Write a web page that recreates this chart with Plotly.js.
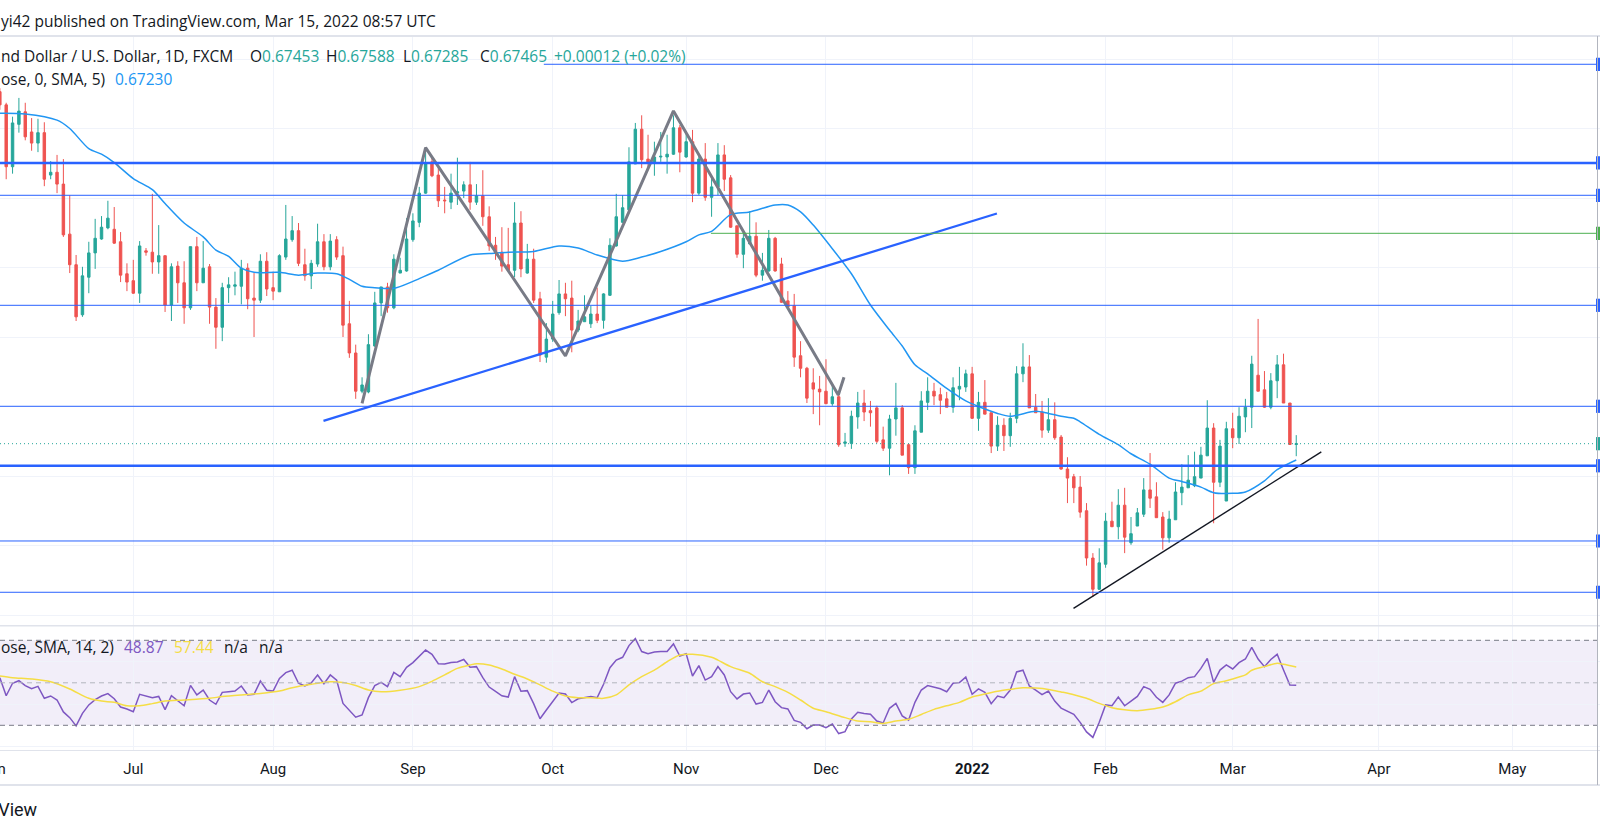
<!DOCTYPE html>
<html><head><meta charset="utf-8">
<script src="https://cdn.plot.ly/plotly-3.0.1.min.js"></script>
<style>html,body{margin:0;padding:0;background:#fff;overflow:hidden}#chart{width:1600px;height:833px}</style>
</head><body><div id="chart"></div>
<script>
// ---------- DATA ----------
const dates = [
'2021-06-02','2021-06-03','2021-06-04','2021-06-07','2021-06-08','2021-06-09','2021-06-10','2021-06-11','2021-06-14','2021-06-15','2021-06-16','2021-06-17','2021-06-18','2021-06-21','2021-06-22','2021-06-23','2021-06-24','2021-06-25','2021-06-28','2021-06-29','2021-06-30',
'2021-07-01','2021-07-02','2021-07-05','2021-07-06','2021-07-07','2021-07-08','2021-07-09','2021-07-12','2021-07-13','2021-07-14','2021-07-15','2021-07-16','2021-07-19','2021-07-20','2021-07-21','2021-07-22','2021-07-23','2021-07-26','2021-07-27','2021-07-28','2021-07-29','2021-07-30',
'2021-08-02','2021-08-03','2021-08-04','2021-08-05','2021-08-06','2021-08-09','2021-08-10','2021-08-11','2021-08-12','2021-08-13','2021-08-16','2021-08-17','2021-08-18','2021-08-19','2021-08-20','2021-08-23','2021-08-24','2021-08-25','2021-08-26','2021-08-27','2021-08-30','2021-08-31',
'2021-09-01','2021-09-02','2021-09-03','2021-09-06','2021-09-07','2021-09-08','2021-09-09','2021-09-10','2021-09-13','2021-09-14','2021-09-15','2021-09-16','2021-09-17','2021-09-20','2021-09-21','2021-09-22','2021-09-23','2021-09-24','2021-09-27','2021-09-28','2021-09-29','2021-09-30',
'2021-10-01','2021-10-04','2021-10-05','2021-10-06','2021-10-07','2021-10-08','2021-10-11','2021-10-12','2021-10-13','2021-10-14','2021-10-15','2021-10-18','2021-10-19','2021-10-20','2021-10-21','2021-10-22','2021-10-25','2021-10-26','2021-10-27','2021-10-28','2021-10-29',
'2021-11-01','2021-11-02','2021-11-03','2021-11-04','2021-11-05','2021-11-08','2021-11-09','2021-11-10','2021-11-11','2021-11-12','2021-11-15','2021-11-16','2021-11-17','2021-11-18','2021-11-19','2021-11-22','2021-11-23','2021-11-24','2021-11-25','2021-11-26','2021-11-29','2021-11-30',
'2021-12-01','2021-12-02','2021-12-03','2021-12-06','2021-12-07','2021-12-08','2021-12-09','2021-12-10','2021-12-13','2021-12-14','2021-12-15','2021-12-16','2021-12-17','2021-12-20','2021-12-21','2021-12-22','2021-12-23','2021-12-24','2021-12-27','2021-12-28','2021-12-29','2021-12-30','2021-12-31',
'2022-01-03','2022-01-04','2022-01-05','2022-01-06','2022-01-07','2022-01-10','2022-01-11','2022-01-12','2022-01-13','2022-01-14','2022-01-17','2022-01-18','2022-01-19','2022-01-20','2022-01-21','2022-01-24','2022-01-25','2022-01-26','2022-01-27','2022-01-28','2022-01-31',
'2022-02-01','2022-02-02','2022-02-03','2022-02-04','2022-02-07','2022-02-08','2022-02-09','2022-02-10','2022-02-11','2022-02-14','2022-02-15','2022-02-16','2022-02-17','2022-02-18','2022-02-21','2022-02-22','2022-02-23','2022-02-24','2022-02-25','2022-02-28',
'2022-03-01','2022-03-02','2022-03-03','2022-03-04','2022-03-07','2022-03-08','2022-03-09','2022-03-10','2022-03-11','2022-03-14','2022-03-15'];

const opens = [
.7253,.7234,.7145,.7206,.7224,.7195,.7179,.7194,.7133,.7137,.7120,.7048,.7004,.6932,.6986,.7021,.7041,.7057,.7055,.7037,.6991,
.6981,.6963,.7024,.7022,.7008,.7017,.6946,.7002,.6978,.6942,.7030,.6978,.7001,.6943,.6914,.6971,.6973,.6973,.6999,.6956,.6953,.7009,
.6971,.6965,.7015,.7040,.7053,.7004,.6988,.7005,.7037,.7001,.7040,.7017,.6919,.6877,.6822,.6821,.6887,.6949,.6972,.6942,.6992,.6995,
.7040,.7065,.7107,.7152,.7133,.7097,.7094,.7107,.7110,.7119,.7094,.7103,.7073,.7032,.7022,.7004,.6996,.7064,.6992,.7012,.6955,.6871,
.6897,.6935,.6962,.6956,.6910,.6922,.6919,.6933,.6924,.6960,.7031,.7065,.7083,.7149,.7199,.7156,.7150,.7159,.7159,.7163,.7201,
.7159,.7181,.7107,.7156,.7101,.7116,.7162,.7129,.7060,.7019,.7034,.7045,.6989,.6995,.7042,.7005,.6952,.6945,.6873,.6855,.6834,.6825,
.6822,.6804,.6814,.6747,.6747,.6785,.6805,.6794,.6798,.6752,.6740,.6782,.6798,.6745,.6712,.6763,.6806,.6822,.6817,.6811,.6799,.6825,.6828,
.6847,.6783,.6806,.6791,.6743,.6773,.6758,.6783,.6847,.6857,.6799,.6792,.6766,.6781,.6756,.6710,.6699,.6684,.6650,.6582,.6537,
.6573,.6635,.6627,.6658,.6604,.6628,.6645,.6680,.6670,.6641,.6611,.6637,.6676,.6683,.6686,.6697,.6729,.6769,.6691,.6664,
.6768,.6755,.6785,.6799,.6845,.6824,.6799,.6837,.6860,.6805,.67453];

const highs = [
.7258,.7237,.7217,.7244,.7237,.7215,.7214,.7209,.7153,.7162,.7156,.7104,.7018,.7001,.7037,.7070,.7074,.7096,.7087,.7051,.7006,
.7011,.7038,.7028,.7106,.7061,.7017,.7006,.7009,.7009,.7030,.7044,.7038,.7005,.6956,.6978,.6986,.6994,.7011,.7006,.6992,.7019,.7022,
.6994,.7019,.7090,.7074,.7064,.7027,.7011,.7063,.7048,.7048,.7045,.7030,.6952,.6889,.6842,.6904,.6965,.6972,.6978,.7019,.7014,.7071,
.7078,.7116,.7173,.7159,.7143,.7116,.7135,.7158,.7124,.7152,.7120,.7140,.7088,.7044,.7058,.7057,.7094,.7081,.7034,.7027,.6965,.6920,
.6952,.6982,.6978,.6981,.6939,.6960,.6945,.6971,.6963,.7042,.7106,.7104,.7173,.7208,.7219,.7191,.7181,.7195,.7191,.7219,.7205,
.7194,.7198,.7162,.7179,.7129,.7179,.7176,.7133,.7060,.7051,.7081,.7065,.7021,.7054,.7044,.7014,.6966,.6962,.6894,.6857,.6855,.6844,
.6868,.6831,.6819,.6762,.6794,.6821,.6824,.6808,.6801,.6771,.6788,.6834,.6802,.6747,.6773,.6822,.6842,.6834,.6827,.6821,.6842,.6857,.6853,
.6857,.6821,.6838,.6791,.6786,.6783,.6791,.6858,.6891,.6874,.6818,.6808,.6812,.6806,.6759,.6727,.6703,.6700,.6661,.6589,.6596,
.6647,.6663,.6681,.6683,.6641,.6654,.6697,.6733,.6691,.6648,.6650,.6691,.6717,.6730,.6735,.6742,.6809,.6776,.6752,.6778,
.6791,.6799,.6811,.6873,.6926,.6851,.6848,.6874,.6876,.6805,.67588];

const lows = [
.7227,.7127,.7135,.7194,.7183,.7168,.7166,.7117,.7127,.7107,.7044,.6992,.6923,.6929,.6963,.6998,.7040,.7055,.7034,.6979,.6966,
.6962,.6949,.7017,.6991,.6991,.6936,.6923,.6949,.6919,.6939,.6966,.6978,.6919,.6883,.6894,.6949,.6960,.6947,.6940,.6900,.6949,.6959,
.6953,.6965,.7011,.7037,.7002,.6981,.6969,.7001,.6996,.6996,.7011,.6900,.6870,.6811,.6819,.6819,.6886,.6930,.6935,.6940,.6992,.6994,
.7037,.7058,.7106,.7130,.7087,.7078,.7084,.7090,.7100,.7083,.7090,.7060,.7024,.7011,.6994,.6994,.6986,.6986,.6991,.6949,.6864,.6863,
.6893,.6932,.6930,.6878,.6907,.6922,.6913,.6920,.6912,.6959,.7030,.7064,.7083,.7149,.7143,.7143,.7132,.7152,.7135,.7162,.7137,
.7158,.7094,.7104,.7096,.7073,.7104,.7110,.7057,.7014,.6999,.7034,.6986,.6981,.6994,.6994,.6949,.6942,.6857,.6842,.6805,.6789,.6773,
.6804,.6801,.6742,.6742,.6739,.6768,.6779,.6771,.6747,.6736,.6701,.6758,.6730,.6703,.6703,.6763,.6795,.6802,.6789,.6799,.6791,.6809,.6821,
.6782,.6765,.6789,.6733,.6736,.6736,.6742,.6776,.6835,.6798,.6791,.6755,.6762,.6752,.6709,.6661,.6661,.6640,.6571,.6526,.6536,
.6568,.6627,.6609,.6589,.6601,.6628,.6641,.6654,.6640,.6594,.6604,.6637,.6658,.6683,.6684,.6697,.6729,.6632,.6684,.6664,
.6740,.6746,.6763,.6769,.6822,.6798,.6796,.6812,.6805,.6745,.67285];

const closes = [
.7234,.7145,.7208,.7225,.7188,.7179,.7194,.7127,.7137,.7120,.7047,.7004,.6929,.6988,.7021,.7042,.7058,.7071,.7035,.6989,.6979,
.6963,.7031,.7022,.7008,.7017,.6946,.7001,.6978,.6942,.7030,.6978,.6999,.6943,.6914,.6971,.6975,.6975,.6999,.6955,.6953,.7009,.6969,
.6966,.7017,.7041,.7053,.7006,.6988,.7006,.7037,.7001,.7038,.7015,.6917,.6877,.6822,.6831,.6889,.6949,.6972,.6942,.7012,.6996,.7041,
.7067,.7107,.7150,.7132,.7096,.7096,.7107,.7109,.7119,.7094,.7103,.7073,.7031,.7021,.7002,.6996,.7064,.6998,.7012,.6953,.6874,.6897,
.6933,.6962,.6955,.6910,.6923,.6929,.6933,.6924,.6962,.7032,.7073,.7086,.7152,.7199,.7155,.7150,.7159,.7160,.7163,.7201,.7166,
.7181,.7107,.7156,.7101,.7116,.7162,.7127,.7058,.7019,.7042,.7045,.6989,.6996,.7042,.6995,.6950,.6943,.6871,.6855,.6812,.6825,.6821,
.6804,.6814,.6745,.6749,.6786,.6805,.6792,.6791,.6750,.6740,.6782,.6798,.6730,.6712,.6765,.6808,.6822,.6815,.6809,.6799,.6827,.6829,.6847,
.6783,.6806,.6789,.6743,.6773,.6758,.6783,.6847,.6857,.6798,.6791,.6766,.6781,.6755,.6710,.6697,.6683,.6648,.6582,.6537,.6575,
.6635,.6627,.6658,.6612,.6617,.6647,.6680,.6668,.6640,.6611,.6638,.6677,.6684,.6694,.6699,.6730,.6769,.6691,.6743,.6768,
.6755,.6786,.6799,.6861,.6822,.6799,.6837,.6860,.6805,.67453,.67465];

// moving average (blue line)
const maDates = ['2021-06-02','2021-06-08','2021-06-15','2021-06-17','2021-06-22','2021-06-24','2021-06-28','2021-07-01','2021-07-06','2021-07-08','2021-07-13','2021-07-16','2021-07-20','2021-07-22','2021-07-26','2021-07-28','2021-08-03','2021-08-06','2021-08-11','2021-08-16','2021-08-18','2021-08-20','2021-08-24','2021-08-27','2021-09-01','2021-09-02','2021-09-07','2021-09-14','2021-09-17','2021-09-22','2021-09-28','2021-10-04','2021-10-07','2021-10-12','2021-10-18','2021-10-21','2021-10-26','2021-11-01','2021-11-03','2021-11-05','2021-11-10','2021-11-15','2021-11-19','2021-11-23','2021-11-25','2021-11-29','2021-12-02','2021-12-07','2021-12-10','2021-12-15','2021-12-17','2021-12-21','2021-12-23','2021-12-28','2021-12-31','2022-01-04','2022-01-07','2022-01-11','2022-01-17','2022-01-19','2022-01-21','2022-01-25','2022-01-26','2022-01-31','2022-02-03','2022-02-07','2022-02-10','2022-02-15','2022-02-17','2022-02-22','2022-02-24','2022-03-01','2022-03-03','2022-03-08','2022-03-10','2022-03-15'];
const maValues = [.7222,.7221,.7212,.7200,.7171,.7163,.7151,.7128,.7112,.7092,.7064,.7044,.7025,.7016,.6999,.6993,.6993,.6989,.6992,.6991,.6983,.6973,.6971,.6970,.6980,.6984,.6996,.7018,.7020,.7022,.7023,.7031,.7028,.7018,.7009,.7015,.7023,.7037,.7047,.7052,.7076,.7080,.7090,.7090,.7080,.7061,.7027,.6991,.6946,.6910,.6887,.6860,.6847,.6826,.6808,.6800,.6790,.6786,.6793,.6790,.6786,.6783,.6778,.6760,.6745,.6732,.6717,.6697,.6692,.6684,.6676,.6675,.6677,.6693,.6709,.6723];

// RSI (14), one value per bar
const rsi = [
52.4,43.9,49.8,51.0,48.7,47.2,48.3,42.7,43.8,41.9, 36.3,33.6,29.7,35.6,39.6,42.1,43.8,44.9,42.5,38.6,
37.7,36.4,44.6,43.8,43.0,43.6,37.4,43.9,41.7,39.2, 48.8,44.3,46.6,41.9,39.9,45.5,45.8,46.1,48.5,44.3,
44.6,50.8,46.5,46.1,52.1,54.8,55.9,49.8,48.5,49.9, 53.7,49.6,53.7,51.2,40.3,37.2,33.8,34.9,43.0,48.7,
50.2,48.2,54.9,52.9,57.3,59.5,62.3,65.4,63.4,59.0, 58.9,59.6,59.8,61.0,57.3,57.6,52.4,48.0,46.0,43.9,
43.3,52.9,46.0,46.3,40.2,33.1,37.2,41.1,45.2,44.7, 40.7,42.5,43.0,43.6,43.0,49.3,57.1,60.7,62.0,67.5,
70.8,64.7,63.7,64.5,64.7,64.7,68.3,62.6,63.7,53.2, 58.1,51.3,52.9,57.6,53.7,45.8,42.4,44.7,45.2,40.0,
40.8,46.6,41.1,38.3,37.7,32.3,31.4,28.4,30.1,30.1, 28.9,30.6,26.1,27.0,33.0,36.1,35.5,35.2,32.0,31.1,
38.0,40.3,34.4,32.5,40.8,46.6,48.7,48.0,47.2,45.8, 49.8,50.1,52.7,44.6,47.1,45.5,40.2,43.8,43.0,46.6,
55.1,55.9,48.5,46.6,44.4,46.1,41.4,38.1,36.7,35.2, 31.4,26.9,24.3,31.4,39.6,39.2,43.3,39.2,41.4,43.6,
48.2,46.9,43.2,40.8,44.3,49.8,50.8,52.4,52.9,56.8, 61.5,50.2,56.0,58.4,56.5,59.5,61.2,66.7,61.2,57.6,
61.0,63.4,56.0,49.0,48.87];

// RSI-based moving average (yellow line)
const rsiMaDates = ['2021-06-02','2021-06-04','2021-06-09','2021-06-14','2021-06-17','2021-06-22','2021-06-24','2021-06-28','2021-06-30','2021-07-02','2021-07-06','2021-07-08','2021-07-13','2021-07-19','2021-07-21','2021-07-26','2021-07-29','2021-08-03','2021-08-05','2021-08-10','2021-08-13','2021-08-17','2021-08-19','2021-08-23','2021-08-25','2021-08-30','2021-09-02','2021-09-06','2021-09-08','2021-09-10','2021-09-14','2021-09-15','2021-09-17','2021-09-21','2021-09-23','2021-09-27','2021-09-29','2021-10-01','2021-10-05','2021-10-07','2021-10-11','2021-10-13','2021-10-15','2021-10-19','2021-10-21','2021-10-25','2021-10-27','2021-10-29','2021-11-02','2021-11-05','2021-11-08','2021-11-10','2021-11-15','2021-11-17','2021-11-19','2021-11-23','2021-11-25','2021-11-29','2021-12-01','2021-12-06','2021-12-08','2021-12-10','2021-12-14','2021-12-16','2021-12-20','2021-12-22','2021-12-24','2021-12-28','2021-12-30','2022-01-03','2022-01-05','2022-01-07','2022-01-11','2022-01-13','2022-01-17','2022-01-19','2022-01-21','2022-01-25','2022-01-27','2022-01-31','2022-02-02','2022-02-04','2022-02-08','2022-02-10','2022-02-14','2022-02-16','2022-02-18','2022-02-22','2022-02-24','2022-02-28','2022-03-02','2022-03-03','2022-03-04','2022-03-08','2022-03-10','2022-03-11','2022-03-15'];
const rsiMaValues = [53.2,52.4,51.8,50.5,47.1,42.7,41.4,40.8,39.2,39.2,40.2,41.4,41.9,42.7,43.5,44.3,45.0,46.1,47.7,49.3,50.5,50.1,48.7,46.6,45.8,46.5,48.2,50.7,53.7,56.8,58.4,59.0,58.4,56.5,54.0,51.8,49.0,46.1,43.8,43.0,43.0,42.7,44.3,49.0,52.9,56.0,59.9,63.1,63.4,62.0,60.7,57.6,54.5,50.5,48.2,45.5,41.9,38.0,36.4,33.6,32.0,31.7,30.9,32.0,32.8,35.1,37.5,39.2,40.8,43.3,44.7,46.0,46.9,47.7,47.5,46.9,45.7,44.4,42.7,40.3,38.3,37.3,36.9,37.5,38.6,41.1,44.3,46.1,49.6,51.0,52.7,53.7,55.9,57.6,59.2,58.7,57.44];

// drawings
const levelPrices = [0.72924, 0.71504, 0.71039, 0.70492, 0.69456, 0.68003, 0.67147, 0.66065, 0.65327];
const levelStarts = ['2021-09-29 14:24','2021-05-01','2021-05-01','2021-11-04 21:36','2021-05-01','2021-05-01','2021-05-01','2021-05-01','2021-05-01'];
const zigzagDates = ['2021-08-20','2021-09-03','2021-10-05','2021-10-28','2021-12-02 22:30','2021-12-03 20:00'];
const zigzagPrices = [0.68046, 0.71724, 0.68727, 0.72252, 0.68165, 0.68420];
const blueTrendDates = ['2021-08-11 22:19','2022-01-06 21:36'];
const blueTrendPrices = [0.67794, 0.70777];
const blackTrendDates = ['2022-01-24 22:48','2022-03-18 22:48'];
const blackTrendPrices = [0.65096, 0.67348];

// time axis ticks
const tickDates = ['2021-07-01','2021-08-02','2021-09-01','2021-10-01','2021-11-01','2021-12-01','2022-01-03','2022-02-01','2022-03-01','2022-04-01','2022-05-02'];
const tickLabels = ['Jul','Aug','Sep','Oct','Nov','Dec','<b>2022</b>','Feb','Mar','Apr','May'];

// ---------- STYLE / LAYOUT ----------
const W = 1600, H = 833;
const UP = '#26a69a', DOWN = '#ef5350', BLUE = '#2962ff', TXT = '#131722';
const FONT = 'Roboto, "Noto Sans", sans-serif';
const LFONT = '"Open Sans", "Noto Sans", sans-serif';
const LSIZE = 15.5;
const px = x => x / W, py = y => 1 - y / H;
const levelColors = [BLUE, BLUE, BLUE, '#4caf50', BLUE, BLUE, BLUE, BLUE, BLUE];
const levelWidths = [1, 2.5, 1, 1, 1, 1, 2.5, 1, 1];

const n = closes.length;
const last = n - 1;

const traces = [
  {type:'candlestick', x:dates, open:opens, high:highs, low:lows, close:closes,
   xaxis:'x', yaxis:'y', whiskerwidth:0, hoverinfo:'skip', showlegend:false,
   increasing:{line:{color:UP, width:1}, fillcolor:UP},
   decreasing:{line:{color:DOWN, width:1}, fillcolor:DOWN}},
  {type:'scatter', mode:'lines', x:maDates, y:maValues, xaxis:'x', yaxis:'y',
   line:{color:'#2196f3', width:1.5, shape:'spline', smoothing:0.8}, hoverinfo:'skip'},
  {type:'scatter', mode:'lines', x:zigzagDates, y:zigzagPrices, xaxis:'x', yaxis:'y',
   line:{color:'#787b86', width:3}, hoverinfo:'skip'},
  {type:'scatter', mode:'lines', x:blueTrendDates, y:blueTrendPrices, xaxis:'x', yaxis:'y',
   line:{color:BLUE, width:2.3}, hoverinfo:'skip'},
  {type:'scatter', mode:'lines', x:blackTrendDates, y:blackTrendPrices, xaxis:'x', yaxis:'y',
   line:{color:'#131722', width:1.4}, hoverinfo:'skip'},
  {type:'scatter', mode:'lines', x:dates, y:rsi, xaxis:'x', yaxis:'y2',
   line:{color:'#7e57c2', width:1.5}, hoverinfo:'skip'},
  {type:'scatter', mode:'lines', x:rsiMaDates, y:rsiMaValues, xaxis:'x', yaxis:'y2',
   line:{color:'#f5dd45', width:1.5, shape:'spline', smoothing:0.8}, hoverinfo:'skip'}
];

const shapes = [];
// RSI band and levels
shapes.push({type:'rect', xref:'paper', yref:'y2', x0:0, x1:px(1597), y0:30, y1:70,
  fillcolor:'rgba(126,87,194,0.10)', line:{width:0}, layer:'below'});
[[70,'#787b86'],[50,'#b2b5be'],[30,'#787b86']].forEach(([v,c]) => shapes.push({type:'line', xref:'paper', yref:'y2',
  x0:0, x1:px(1597), y0:v, y1:v, line:{color:c, width:1, dash:'5px,4px'}}));
// horizontal levels
levelPrices.forEach((p,i) => {
  shapes.push({type:'line', xref:'x', yref:'y', x0:levelStarts[i], x1:'2022-12-30', y0:p, y1:p,
    line:{color:levelColors[i], width:levelWidths[i]}});
  shapes.push({type:'rect', xref:'paper', yref:'y', x0:px(1596), x1:1, y0:p-0.00095, y1:p+0.00095,
    fillcolor:levelColors[i], line:{width:0}});
});
// last price dotted line
shapes.push({type:'line', xref:'paper', yref:'y', x0:0, x1:px(1597), y0:closes[last], y1:closes[last],
  line:{color:UP, width:1, dash:'1px,3px'}});
shapes.push({type:'rect', xref:'paper', yref:'y', x0:px(1596), x1:1, y0:closes[last]-0.00095, y1:closes[last]+0.00095,
  fillcolor:UP, line:{width:0}});
// frame lines
[[36,2],[625.7,1.5],[785,2]].forEach(([y,w]) => shapes.push({type:'line', xref:'paper', yref:'paper',
  x0:0, x1:1, y0:py(y), y1:py(y), line:{color:'#e0e3eb', width:w}}));
shapes.push({type:'line', xref:'paper', yref:'paper', x0:px(1597.5), x1:px(1597.5), y0:py(36), y1:py(785),
  line:{color:'#b2b5be', width:1}});

function ann(x, y, text, opt) {
  return Object.assign({xref:'paper', yref:'paper', x:px(x), y:py(y), text:text, showarrow:false,
    xanchor:'left', yanchor:'middle', borderpad:0,
    font:{family:LFONT, size:LSIZE, color:TXT}}, opt || {});
}
const teal = v => '<span style="color:' + UP + '">' + v + '</span>';
const chg = closes[last] - closes[last-1];
const chgPct = chg / closes[last-1] * 100;

const annotations = [
  ann(0, 20.5, 'yi42 published on TradingView.com, Mar 15, 2022 08:57 UTC', {font:{family:LFONT, size:15.5, color:TXT}}),
  ann(0, 56, 'nd Dollar / U.S. Dollar, 1D, FXCM'),
  ann(249, 56, 'O' + teal(opens[last].toFixed(5))),
  ann(325, 56, 'H' + teal(highs[last].toFixed(5))),
  ann(402, 56, 'L' + teal(lows[last].toFixed(5))),
  ann(479, 56, 'C' + teal(closes[last].toFixed(5))),
  ann(553, 56, teal('+' + chg.toFixed(5) + ' (+' + chgPct.toFixed(2) + '%)')),
  ann(0, 78.6, 'ose, 0, SMA, 5)'),
  ann(114, 78.6, maValues[maValues.length-1].toFixed(5), {font:{family:LFONT, size:LSIZE, color:'#2196f3'}}),
  ann(0, 647, 'ose, SMA, 14, 2)'),
  ann(123, 647, rsi[last].toFixed(2), {font:{family:LFONT, size:LSIZE, color:'#7e57c2'}}),
  ann(173, 647, rsiMaValues[rsiMaValues.length-1].toFixed(2), {font:{family:LFONT, size:LSIZE, color:'#f5dd45'}}),
  ann(223, 647, 'n/a'),
  ann(258, 647, 'n/a'),
  ann(-7, 769, 'Jun', {xanchor:'center', font:{family:FONT, size:15, color:TXT}}),
  ann(39, 809, 'TradingView', {xanchor:'right', font:{family:FONT, size:18, color:TXT}})
];

const layout = {
  width:W, height:H, margin:{l:0, r:0, t:0, b:0, pad:0},
  paper_bgcolor:'#ffffff', plot_bgcolor:'#ffffff', showlegend:false,
  boxgap:0.45, dragmode:false, hovermode:false,
  font:{family:FONT, color:TXT},
  xaxis:{type:'date', range:['2021-06-02 00:36','2022-05-19 19:12'],
    rangebreaks:[{bounds:['sat','mon']}], rangeslider:{visible:false},
    tickvals:tickDates, ticktext:tickLabels, tickfont:{family:FONT, size:15, color:TXT},
    ticks:'', ticklabelstandoff:5, showgrid:true, gridcolor:'#f0f3fa', gridwidth:1, zeroline:false,
    showline:true, linecolor:'#e0e3eb', linewidth:1, anchor:'y2', fixedrange:true},
  yaxis:{domain:[py(625.7), py(37)], range:[0.648460, 0.733165], dtick:0.01, tick0:0,
    showticklabels:false, ticks:'', showgrid:true, gridcolor:'#f0f3fa', zeroline:false, fixedrange:true},
  yaxis2:{domain:[py(749.7), py(625.7)], range:[18.518, 76.871], tickvals:[20,40,60],
    showticklabels:false, ticks:'', showgrid:true, gridcolor:'#f0f3fa', zeroline:false, fixedrange:true},
  shapes:shapes, annotations:annotations
};

Plotly.newPlot('chart', traces, layout, {staticPlot:true, displayModeBar:false});
</script>
</body></html>
